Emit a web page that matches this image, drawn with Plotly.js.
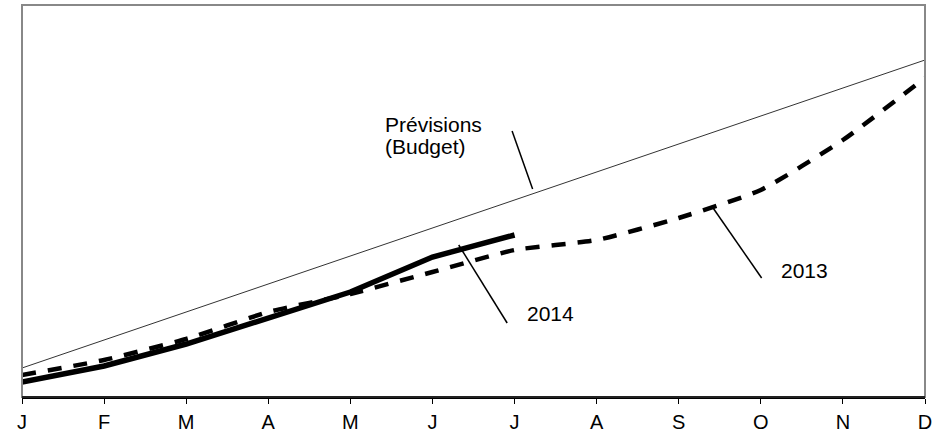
<!DOCTYPE html>
<html>
<head>
<meta charset="utf-8">
<script src="https://cdn.plot.ly/plotly-3.0.1.min.js"></script>
<style>html,body{margin:0;padding:0;background:#fff;}#chart{width:944px;height:432px;}</style>
</head>
<body>
<div id="chart"></div>
<script>
// Month tick labels (French initials)
const monthLabels = ["J","F","M","A","M","J","J","A","S","O","N","D"];
const monthIndex = [0,1,2,3,4,5,6,7,8,9,10,11];

// Budget forecast (straight line, start and end)
const budgetX = [0, 11];
const budgetY = [29, 337];

// 2013 actuals (arbitrary units)
const y2013 = [22, 37, 58, 85, 103, 125, 147, 157, 179, 207, 257, 319];

// 2014 actuals (Jan–Jul)
const x2014 = [0,1,2,3,4,5,6];
const y2014 = [15, 31, 53, 79, 105, 140, 162];

const FONT = "Liberation Sans, Arial, sans-serif";

const traces = [
  {x: budgetX, y: budgetY, mode: "lines", line: {color: "#333", width: 1}, hoverinfo: "skip"},
  {x: monthIndex, y: y2013, mode: "lines", line: {color: "#000", width: 4.5, dash: "14px,12px", shape: "spline", smoothing: 0.5}, hoverinfo: "skip"},
  {x: x2014, y: y2014, mode: "lines", line: {color: "#000", width: 5.5}, hoverinfo: "skip"}
];

const layout = {
  width: 944, height: 432,
  margin: {l: 22, r: 19, t: 5, b: 35},
  paper_bgcolor: "#fff", plot_bgcolor: "#fff",
  showlegend: false,
  font: {family: FONT, color: "#000"},
  xaxis: {
    range: [0, 11], tickvals: monthIndex, ticktext: monthLabels,
    showgrid: false, zeroline: false, showline: true, linecolor: "#000", linewidth: 1.5,
    ticks: "outside", ticklen: 5, tickcolor: "#000", tickwidth: 1,
    ticklabelstandoff: 1,
    tickfont: {family: FONT, size: 20, color: "#000"}
  },
  yaxis: {range: [0, 392], showgrid: false, zeroline: false, showticklabels: false, showline: false, ticks: ""},
  shapes: [
    {type: "rect", xref: "paper", yref: "paper", x0: 0, x1: 1, y0: 0, y1: 1, line: {color: "#888", width: 2}},
    {type: "line", xref: "paper", yref: "paper", x0: 0, x1: 1, y0: 0, y1: 0, line: {color: "#000", width: 1.5}},
    {type: "line", xref: "x", yref: "y", x0: 5.97, y0: 266, x1: 6.22, y1: 208, line: {color: "#000", width: 1.5}},
    {type: "line", xref: "x", yref: "y", x0: 5.32, y0: 152, x1: 5.91, y1: 74, line: {color: "#000", width: 1.5}},
    {type: "line", xref: "x", yref: "y", x0: 8.41, y0: 190, x1: 9.01, y1: 119, line: {color: "#000", width: 1.5}}
  ],
  annotations: [
    {xref: "x", yref: "y", x: 4.40, y: 273, text: "Prévisions", showarrow: false, xanchor: "left", yanchor: "middle", font: {family: FONT, size: 21, color: "#000"}},
    {xref: "x", yref: "y", x: 4.40, y: 251, text: "(Budget)", showarrow: false, xanchor: "left", yanchor: "middle", font: {family: FONT, size: 21, color: "#000"}},
    {xref: "x", yref: "y", x: 6.13, y: 84, text: "2014", showarrow: false, xanchor: "left", yanchor: "middle", font: {family: FONT, size: 21, color: "#000"}},
    {xref: "x", yref: "y", x: 9.22, y: 127, text: "2013", showarrow: false, xanchor: "left", yanchor: "middle", font: {family: FONT, size: 21, color: "#000"}}
  ]
};

Plotly.newPlot("chart", traces, layout, {displayModeBar: false, staticPlot: true});
</script>
</body>
</html>
